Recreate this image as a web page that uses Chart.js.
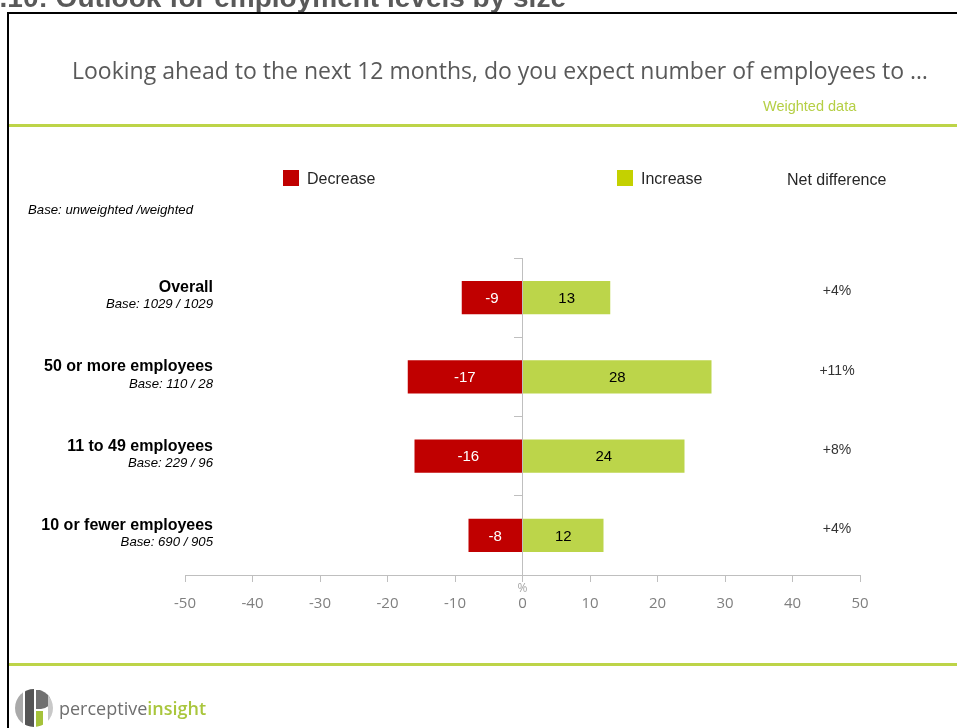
<!DOCTYPE html>
<html>
<head>
<meta charset="utf-8">
<script src="https://cdn.jsdelivr.net/npm/chart.js@4/dist/chart.umd.min.js"></script>
<style>
  html, body { margin: 0; padding: 0; background: #fff; }
  body { width: 957px; height: 728px; position: relative; overflow: hidden; font-family: "Liberation Sans", Arial, sans-serif; }
  #chart-outlook { position: absolute; left: 0; top: 0; }
  .abs { position: absolute; line-height: 1; white-space: nowrap; }
  .frame-top { position: absolute; left: 7px; top: 12px; width: 950px; height: 2px; background: #000; }
  .frame-left { position: absolute; left: 7px; top: 12px; width: 2px; height: 716px; background: #000; }
  .rule { position: absolute; left: 9px; right: 0; height: 3px; background: #bdd448; }
  .swatch { position: absolute; width: 16px; height: 16px; }
</style>
</head>
<body>
<canvas id="chart-outlook" width="957" height="728"></canvas>

<div class="abs" style="left:-16px; top:-16px; font-size:28px; font-weight:bold; color:#595959;">4.10: Outlook for employment levels by size</div>
<div class="frame-top"></div>
<div class="frame-left"></div>

<div class="abs" id="question" style="left:72px; top:59px; font-family:'Open Sans', sans-serif; font-size:23px; color:#595959;">Looking ahead to the next 12 months, do you expect number of employees to …</div>
<div class="abs" style="left:763px; top:99px; font-size:14.5px; color:#b5cf45;">Weighted data</div>
<div class="rule" style="top:124px;"></div>

<div class="swatch" style="left:283px; top:170px; background:#c00000;"></div>
<div class="abs" style="left:307px; top:171px; font-size:16px; color:#262626;">Decrease</div>
<div class="swatch" style="left:617px; top:170px; background:#c4d100;"></div>
<div class="abs" style="left:641px; top:171px; font-size:16px; color:#262626;">Increase</div>
<div class="abs" style="left:787px; top:172px; font-size:16px; color:#262626;">Net difference</div>

<div class="abs" style="left:28px; top:203px; font-size:13.2px; font-style:italic; color:#000;">Base: unweighted /weighted</div>

<div class="rule" style="top:663px;"></div>

<!-- company mark -->
<svg class="abs" style="left:14px; top:688px;" width="40" height="40" viewBox="0 0 40 40">
  <defs><clipPath id="mark-clip"><circle cx="20" cy="20" r="19"/></clipPath></defs>
  <g clip-path="url(#mark-clip)">
    <rect x="0" y="0" width="9" height="40" fill="#a9a9a9"/>
    <rect x="11" y="0" width="9" height="40" fill="#555"/>
    <path d="M22 2 h5 a9.5 9.5 0 0 1 0 19 h-5 z" fill="#707070"/>
    <rect x="22" y="23" width="7" height="17" fill="#a5c23a"/>
    <rect x="34" y="0" width="6" height="40" fill="#c8c8c8"/>
  </g>
</svg>
<div class="abs" style="left:59px; top:699px; font-family:'Open Sans', sans-serif; font-size:18px;"><span style="color:#6f6f6f;">perceptive</span><span style="color:#a9c63c; font-weight:600;">insight</span></div>

<script>
const categories = ['Overall', '50 or more employees', '11 to 49 employees', '10 or fewer employees'];
const bases = ['Base: 1029 / 1029', 'Base: 110 / 28', 'Base: 229 / 96', 'Base: 690 / 905'];
const decrease = [-9, -17, -16, -8];
const increase = [13, 28, 24, 12];
const xMin = -50;
const xMax = 50;
const xStep = 10;

const ARIAL = '"Liberation Sans", Arial, sans-serif';

// value text inside each bar segment
const barValueLabels = {
  id: 'barValueLabels',
  afterDatasetsDraw(chart) {
    const { ctx } = chart;
    const colors = ['#ffffff', '#000000'];
    ctx.save();
    ctx.font = '15px ' + ARIAL;
    ctx.textAlign = 'center';
    ctx.textBaseline = 'middle';
    chart.data.datasets.forEach((ds, i) => {
      chart.getDatasetMeta(i).data.forEach((bar, j) => {
        const { x, y } = bar.getCenterPoint();
        ctx.fillStyle = colors[i];
        ctx.fillText(ds.data[j], x, y + 1);
      });
    });
    ctx.restore();
  }
};

// row names, base sizes, net difference column and the % unit
const rowLabels = {
  id: 'rowLabels',
  afterDraw(chart) {
    const { ctx, scales } = chart;
    ctx.save();
    ctx.textBaseline = 'middle';
    categories.forEach((name, i) => {
      const cy = scales.y.getPixelForValue(i);
      ctx.textAlign = 'right';
      ctx.fillStyle = '#000';
      ctx.font = 'bold 16px ' + ARIAL;
      ctx.fillText(name, 213, cy - 10);
      ctx.font = 'italic 13.2px ' + ARIAL;
      ctx.fillText(bases[i], 213, cy + 7);

      const net = increase[i] + decrease[i];
      ctx.textAlign = 'center';
      ctx.fillStyle = '#333';
      ctx.font = '14px ' + ARIAL;
      ctx.fillText((net > 0 ? '+' : '') + net + '%', 837, cy - 6);
    });
    ctx.textAlign = 'center';
    ctx.fillStyle = '#a6a6a6';
    ctx.font = '12px "Open Sans", sans-serif';
    ctx.fillText('%', scales.x.getPixelForValue(0), scales.x.top + 14);
    ctx.restore();
  }
};

new Chart(document.getElementById('chart-outlook'), {
  type: 'bar',
  data: {
    labels: categories,
    datasets: [
      { label: 'Decrease', data: decrease, backgroundColor: '#c00000', borderWidth: 0 },
      { label: 'Increase', data: increase, backgroundColor: '#bcd54a', borderWidth: 0 }
    ]
  },
  options: {
    indexAxis: 'y',
    responsive: false,
    animation: false,
    events: [],
    layout: { padding: { left: 185, right: 97, top: 258, bottom: 113 } },
    datasets: { bar: { barPercentage: 0.42, categoryPercentage: 1 } },
    plugins: { legend: { display: false }, tooltip: { enabled: false } },
    scales: {
      x: {
        stacked: true,
        min: xMin,
        max: xMax,
        afterFit: (scale) => { scale.height = 40; },
        ticks: {
          stepSize: xStep,
          padding: 13,
          color: '#7f7f7f',
          font: { family: '"Open Sans", sans-serif', size: 15 }
        },
        grid: { drawOnChartArea: false, drawTicks: true, tickLength: 7, color: '#bfbfbf' },
        border: { color: '#bfbfbf', width: 1 }
      },
      y: {
        stacked: true,
        position: { x: 0 },
        ticks: { display: false },
        grid: { drawOnChartArea: false, drawTicks: true, tickLength: 8, color: '#bfbfbf' },
        border: { color: '#bfbfbf', width: 1 }
      }
    }
  },
  plugins: [barValueLabels, rowLabels]
});
</script>
</body>
</html>
